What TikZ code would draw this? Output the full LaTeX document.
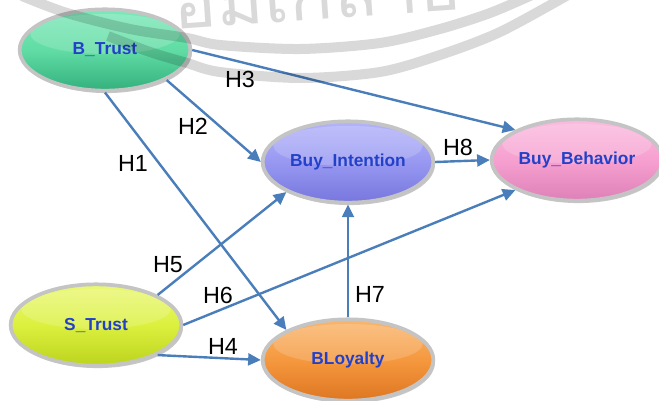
\documentclass[tikz,border=0pt]{standalone}
\usepackage{fontspec}
\setmainfont{Liberation Sans}
\newfontfamily\thaifont[Script=Thai]{Loma}
\usetikzlibrary{arrows.meta,shapes.geometric,shadows}

\definecolor{arrowblue}{RGB}{74,126,187}
\definecolor{txtblue}{RGB}{35,65,200}
\definecolor{rimgray}{RGB}{196,196,196}
\definecolor{gTop}{RGB}{125,232,185}
\definecolor{gMid}{RGB}{96,220,164}
\definecolor{gBot}{RGB}{52,176,126}
\definecolor{lTop}{RGB}{180,180,250}
\definecolor{lMid}{RGB}{152,152,242}
\definecolor{lBot}{RGB}{118,118,222}
\definecolor{pTop}{RGB}{250,188,224}
\definecolor{pMid}{RGB}{246,160,208}
\definecolor{pBot}{RGB}{222,128,184}
\definecolor{yTop}{RGB}{234,248,118}
\definecolor{yMid}{RGB}{220,240,62}
\definecolor{yBot}{RGB}{188,212,30}
\definecolor{oTop}{RGB}{250,182,108}
\definecolor{oMid}{RGB}{245,152,62}
\definecolor{oBot}{RGB}{222,118,34}

\tikzset{
  oval/.style n args={3}{ellipse, minimum width=128pt, minimum height=61pt, inner sep=0pt,
    draw=rimgray, line width=2.8pt,
    top color=#1, bottom color=#3, middle color=#2,
    drop shadow={shadow xshift=1.2pt, shadow yshift=-1.8pt, opacity=.3, fill=black!70},
    path picture={\fill[white,opacity=.17] ([yshift=12pt]path picture bounding box.center) ellipse (56pt and 15pt);},
    text=txtblue, font=\bfseries\fontsize{13}{15}\selectfont},
  conn/.style={draw=arrowblue, line width=1.8pt, -{Triangle[length=9.5pt,width=9pt]}},
  lbl/.style={font=\fontsize{17.5}{20}\selectfont, inner sep=0pt, text=black},
  wmband/.style={draw=black, draw opacity=.15, line width=7.5pt}
}

\begin{document}
\begin{tikzpicture}[x=0.75pt,y=-0.75pt]
\useasboundingbox (0,0) rectangle (659,400);
\fill[white] (0,0) rectangle (659,400);

% nodes
\node[oval={gTop}{gMid}{gBot}] (bt) at (105,50) {B\_Trust};
\node[oval={lTop}{lMid}{lBot}] (bi) at (348,162) {Buy\_Intention};
\node[oval={pTop}{pMid}{pBot}] (bb) at (577,160) {Buy\_Behavior};
\node[oval={yTop}{yMid}{yBot}] (st) at (96,325) {S\_Trust};
\node[oval={oTop}{oMid}{oBot}] (bl) at (348,360) {BLoyalty};

% connectors
\draw[conn] (bt.south) -- (bl.north west);
\draw[conn] (bt.south east) -- (bi.west);
\draw[conn] (bt.east) -- (bb.north west);
\draw[conn] (bi.east) -- (bb.west);
\draw[conn] (st.north east) -- (bi.south west);
\draw[conn] (st.east) -- (bb.south west);
\draw[conn] (st.south east) -- (bl.west);
\draw[conn] (bl.north) -- (bi.south);

% labels
\node[lbl] (h1) at (133,163) {H1};
\node[lbl] (h2) at (193,126) {H2};
\node[lbl] (h3) at (240,79) {H3};
\node[lbl] (h4) at (223,346) {H4};
\node[lbl] (h5) at (168,265) {H5};
\node[lbl] (h6) at (218,295) {H6};
\node[lbl] (h7) at (370,294) {H7};
\node[lbl] (h8) at (458,147) {H8};

% watermark
\draw[wmband] plot[smooth] coordinates {(22,-4) (67,13) (130,29) (187,38) (220,45) (300,49) (380,43) (440,29) (490,13) (532,-5)};
\draw[wmband] plot[smooth] coordinates {(108,36) (150,52) (187,63) (220,72) (300,78) (380,72) (440,55) (500,32) (568,-5)};
\node[font=\thaifont\fontsize{52}{56}\selectfont, text=black, text opacity=.15, rotate=4, xscale=1.05, anchor=base west, inner sep=0pt] (wm) at (174,30) {อมเกล้าธ};
\end{tikzpicture}
\end{document}
